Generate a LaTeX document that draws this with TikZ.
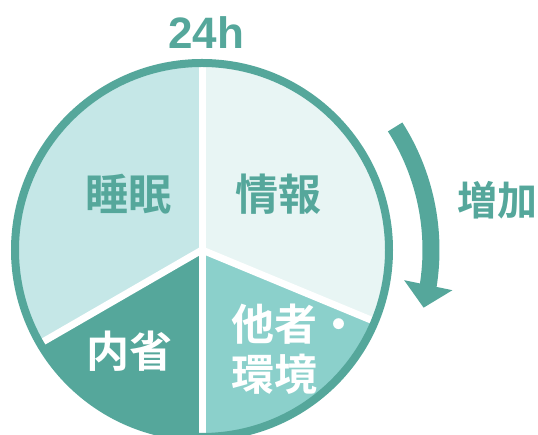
\documentclass[tikz,border=0pt]{standalone}
\usepackage{fontspec}
\newfontfamily\jp{Noto Sans CJK JP}[BoldFont=* Bold]
\newfontfamily\lat{Liberation Sans}
\usetikzlibrary{arrows.meta,bending}
\definecolor{ringteal}{HTML}{55A79B}
\definecolor{sleepfill}{HTML}{C5E7E7}
\definecolor{infofill}{HTML}{E8F5F4}
\definecolor{otherfill}{HTML}{8BD0CB}

\begin{document}
\begin{tikzpicture}[x=1pt, y=1pt,
  txt/.style={font=\jp\bfseries\fontsize{43}{50}\selectfont, text=ringteal},
  wtxt/.style={txt, text=white}]
  \useasboundingbox (0,0) rectangle (538,435);
  \clip (0,0) rectangle (538,435);
  \coordinate(c) at (202,185);
  % sectors
  \fill[sleepfill] (c) -- ++(90:187) arc[start angle=90, end angle=210, radius=187] -- cycle;
  \fill[ringteal] (c) -- ++(210:187) arc[start angle=210, end angle=270, radius=187] -- cycle;
  \fill[otherfill] (c) -- ++(270:187) arc[start angle=270, end angle=337.5, radius=187] -- cycle;
  \fill[infofill] (c) -- ++(-22.5:187) arc[start angle=-22.5, end angle=90, radius=187] -- cycle;
  \foreach \a in {90,210,270,-22.5}
    \draw[white, line width=7pt] (c) -- ++(\a:187);
  \draw[ringteal, line width=8pt] (c) circle[radius=187];
  % labels
  \node(day)[txt, anchor=base, font=\lat\bfseries\fontsize{44}{50}\selectfont] at (206,386) {24h};
  \node(sleep)[txt] at (128.5,241) {睡眠};
  \node(info)[txt] at (278.5,240.5) {情報};
  \node(intro)[wtxt] at (129,84) {内省};
  \node(other)[wtxt, anchor=west, align=left, inner sep=0pt] at (231.5,86) {他者・\\環境};
  \node(more)[txt, font=\jp\bfseries\fontsize{40}{48}\selectfont] at (497,235) {増加};
  % arrow
  \coordinate(a0) at ([shift={(32.5:229)}]c);
  \draw[ringteal, line width=17pt, -{Triangle[length=23pt, width=48pt]}]
    (a0) arc[start angle=32.5, end angle=-14.6, radius=229];
\end{tikzpicture}
\end{document}
